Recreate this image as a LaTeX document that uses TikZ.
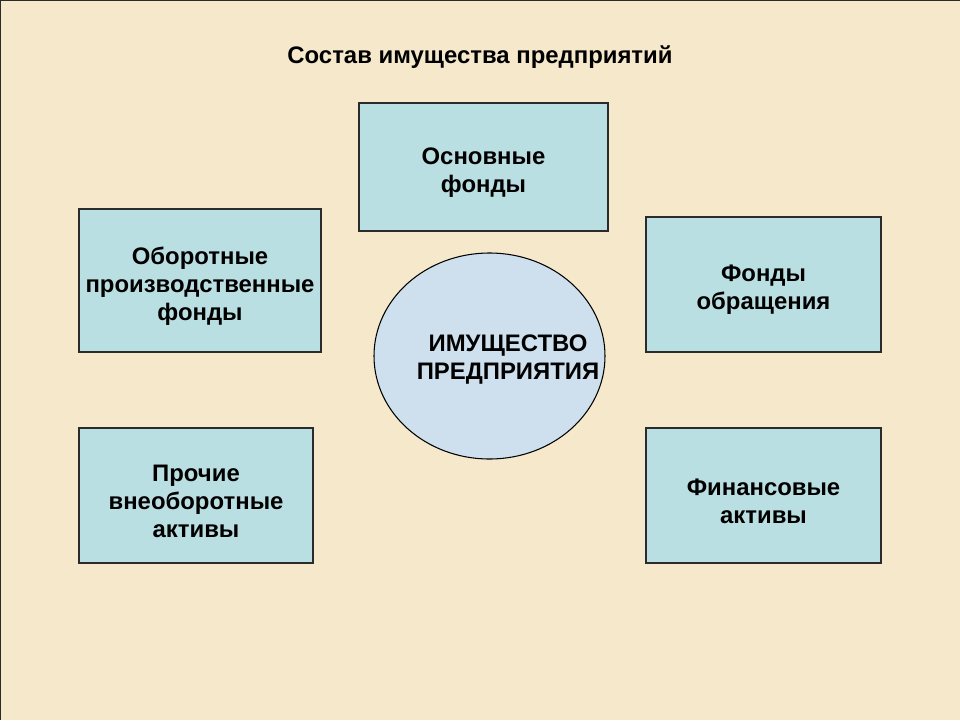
\documentclass[tikz,border=0pt]{standalone}
\usepackage{fontspec}
\setmainfont{Liberation Sans}
\usetikzlibrary{shapes.geometric}
\usetikzlibrary{positioning}

\definecolor{paper}{HTML}{F6E8CB}
\definecolor{boxblue}{HTML}{BADFE2}
\definecolor{ovalblue}{HTML}{CEE0EE}
\definecolor{edge}{HTML}{2B2B2B}

\tikzset{
  txt/.style={font=\bfseries\fontsize{13.6}{15.9}\selectfont, align=center, text=black},
  fondbox/.style={txt, draw=edge, line width=0.7pt, fill=boxblue, inner sep=0pt},
  oval/.style={ellipse, draw=black, line width=0.6pt, fill=ovalblue, inner sep=0pt}
}

\begin{document}
\begin{tikzpicture}[x=0.02cm, y=-0.02cm]

 %background
 \fill[paper] (0,0) rectangle (960,720);
 \useasboundingbox (0,0) rectangle (960,720);
 \draw[edge, line width=0.8pt] (0,720) -- (0,0) -- (960,0);

 %title
 \node[txt] (title) at (480,57) {Состав имущества предприятий};

 %boxes
 \foreach \bx/\by/\bw/\bh/\bname/\btext in {483.5/167/249/128/osn/{Основные\\фонды}, 200/280.5/242/143/obor/{Оборотные\\производственные\\фонды}, 763.5/284.5/235/135/obr/{Фонды\\обращения}, 196/495.5/234/135/proch/{Прочие\\внеоборотные\\активы}, 763.5/495.5/235/135/fin/{Финансовые\\активы}} {
         \node[fondbox, minimum width=\bw*0.02cm, minimum height=\bh*0.02cm] (\bname) at (\bx,\by) {};
         \node[txt] (T\bname) at ([yshift=-0.11cm]\bname.center) {\btext};
 }

 %centre
 \node[oval, minimum width=231*0.02cm, minimum height=206*0.02cm] (imush) at (489.5,356) {};
 \node[txt] (Timush) at (508,360) {ИМУЩЕСТВО\\ПРЕДПРИЯТИЯ};

\end{tikzpicture}
\end{document}
